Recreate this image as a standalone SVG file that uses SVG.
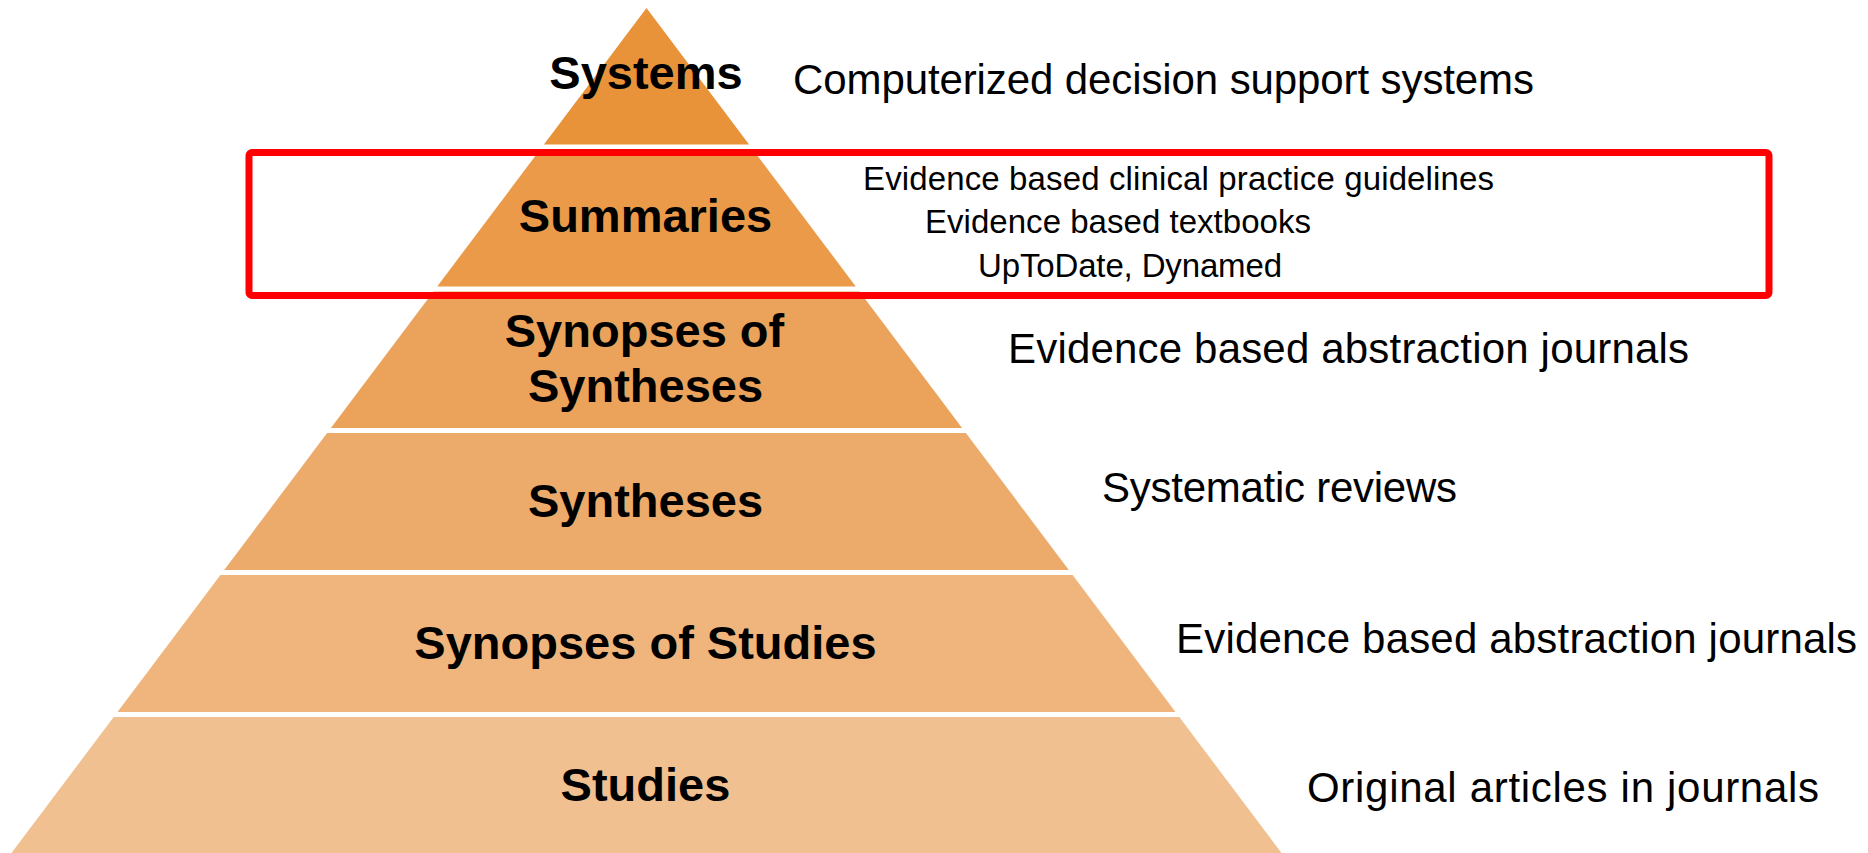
<svg xmlns="http://www.w3.org/2000/svg" width="1868" height="853" viewBox="0 0 1868 853">
  <style>
    .lbl { font-family: "Liberation Sans", Arial, sans-serif; font-weight: bold; font-size: 47px; fill: #000; text-anchor: middle; }
    .desc { font-family: "Liberation Sans", Arial, sans-serif; font-size: 42px; fill: #000; }
    .sdesc { font-family: "Liberation Sans", Arial, sans-serif; font-size: 33px; fill: #000; }
    .hl { fill: none; stroke: #FF0000; stroke-width: 7; }
  </style>
  <rect x="0" y="0" width="1868" height="853" fill="#FFFFFF"/>

  <g id="systems">
    <polygon points="646.5,8 749.1,144.5 543.9,144.5" fill="#E8923A"/>
    <text class="lbl" x="646" y="89">Systems</text>
    <text class="desc" x="793" y="94" textLength="741">Computerized decision support systems</text>
  </g>

  <g id="summaries">
    <polygon points="540.2,149.5 752.8,149.5 855.8,286.5 437.2,286.5" fill="#EA9A48"/>
    <text class="lbl" x="645.5" y="232">Summaries</text>
    <text class="sdesc" x="863" y="190" textLength="631">Evidence based clinical practice guidelines</text>
    <text class="sdesc" x="925" y="233" textLength="386">Evidence based textbooks</text>
    <text class="sdesc" x="978" y="277" textLength="304">UpToDate, Dynamed</text>
  </g>

  <g id="synopses-of-syntheses">
    <polygon points="433.5,291.5 859.5,291.5 962.1,428 330.9,428" fill="#EBA25A"/>
    <text class="lbl" x="644.5" y="347">Synopses of</text>
    <text class="lbl" x="645.5" y="402">Syntheses</text>
    <text class="desc" x="1008" y="363" textLength="681">Evidence based abstraction journals</text>
  </g>

  <g id="syntheses">
    <polygon points="327.1,433 965.9,433 1068.8,570 224.2,570" fill="#EDAB6B"/>
    <text class="lbl" x="645.5" y="517">Syntheses</text>
    <text class="desc" x="1102" y="502" textLength="355">Systematic reviews</text>
  </g>

  <g id="synopses-of-studies">
    <polygon points="220.4,575 1072.6,575 1175.5,712 117.5,712" fill="#EFB57D"/>
    <text class="lbl" x="645.5" y="659">Synopses of Studies</text>
    <text class="desc" x="1176" y="653" textLength="681">Evidence based abstraction journals</text>
  </g>

  <g id="studies">
    <polygon points="113.7,717 1179.3,717 1281.5,853 11.5,853" fill="#F1C090"/>
    <text class="lbl" x="645.5" y="801">Studies</text>
    <text class="desc" x="1307" y="802" textLength="512">Original articles in journals</text>
  </g>

  <g id="highlight">
    <rect class="hl" x="249" y="152.5" width="1520" height="143" rx="3" ry="3"/>
  </g>
</svg>
